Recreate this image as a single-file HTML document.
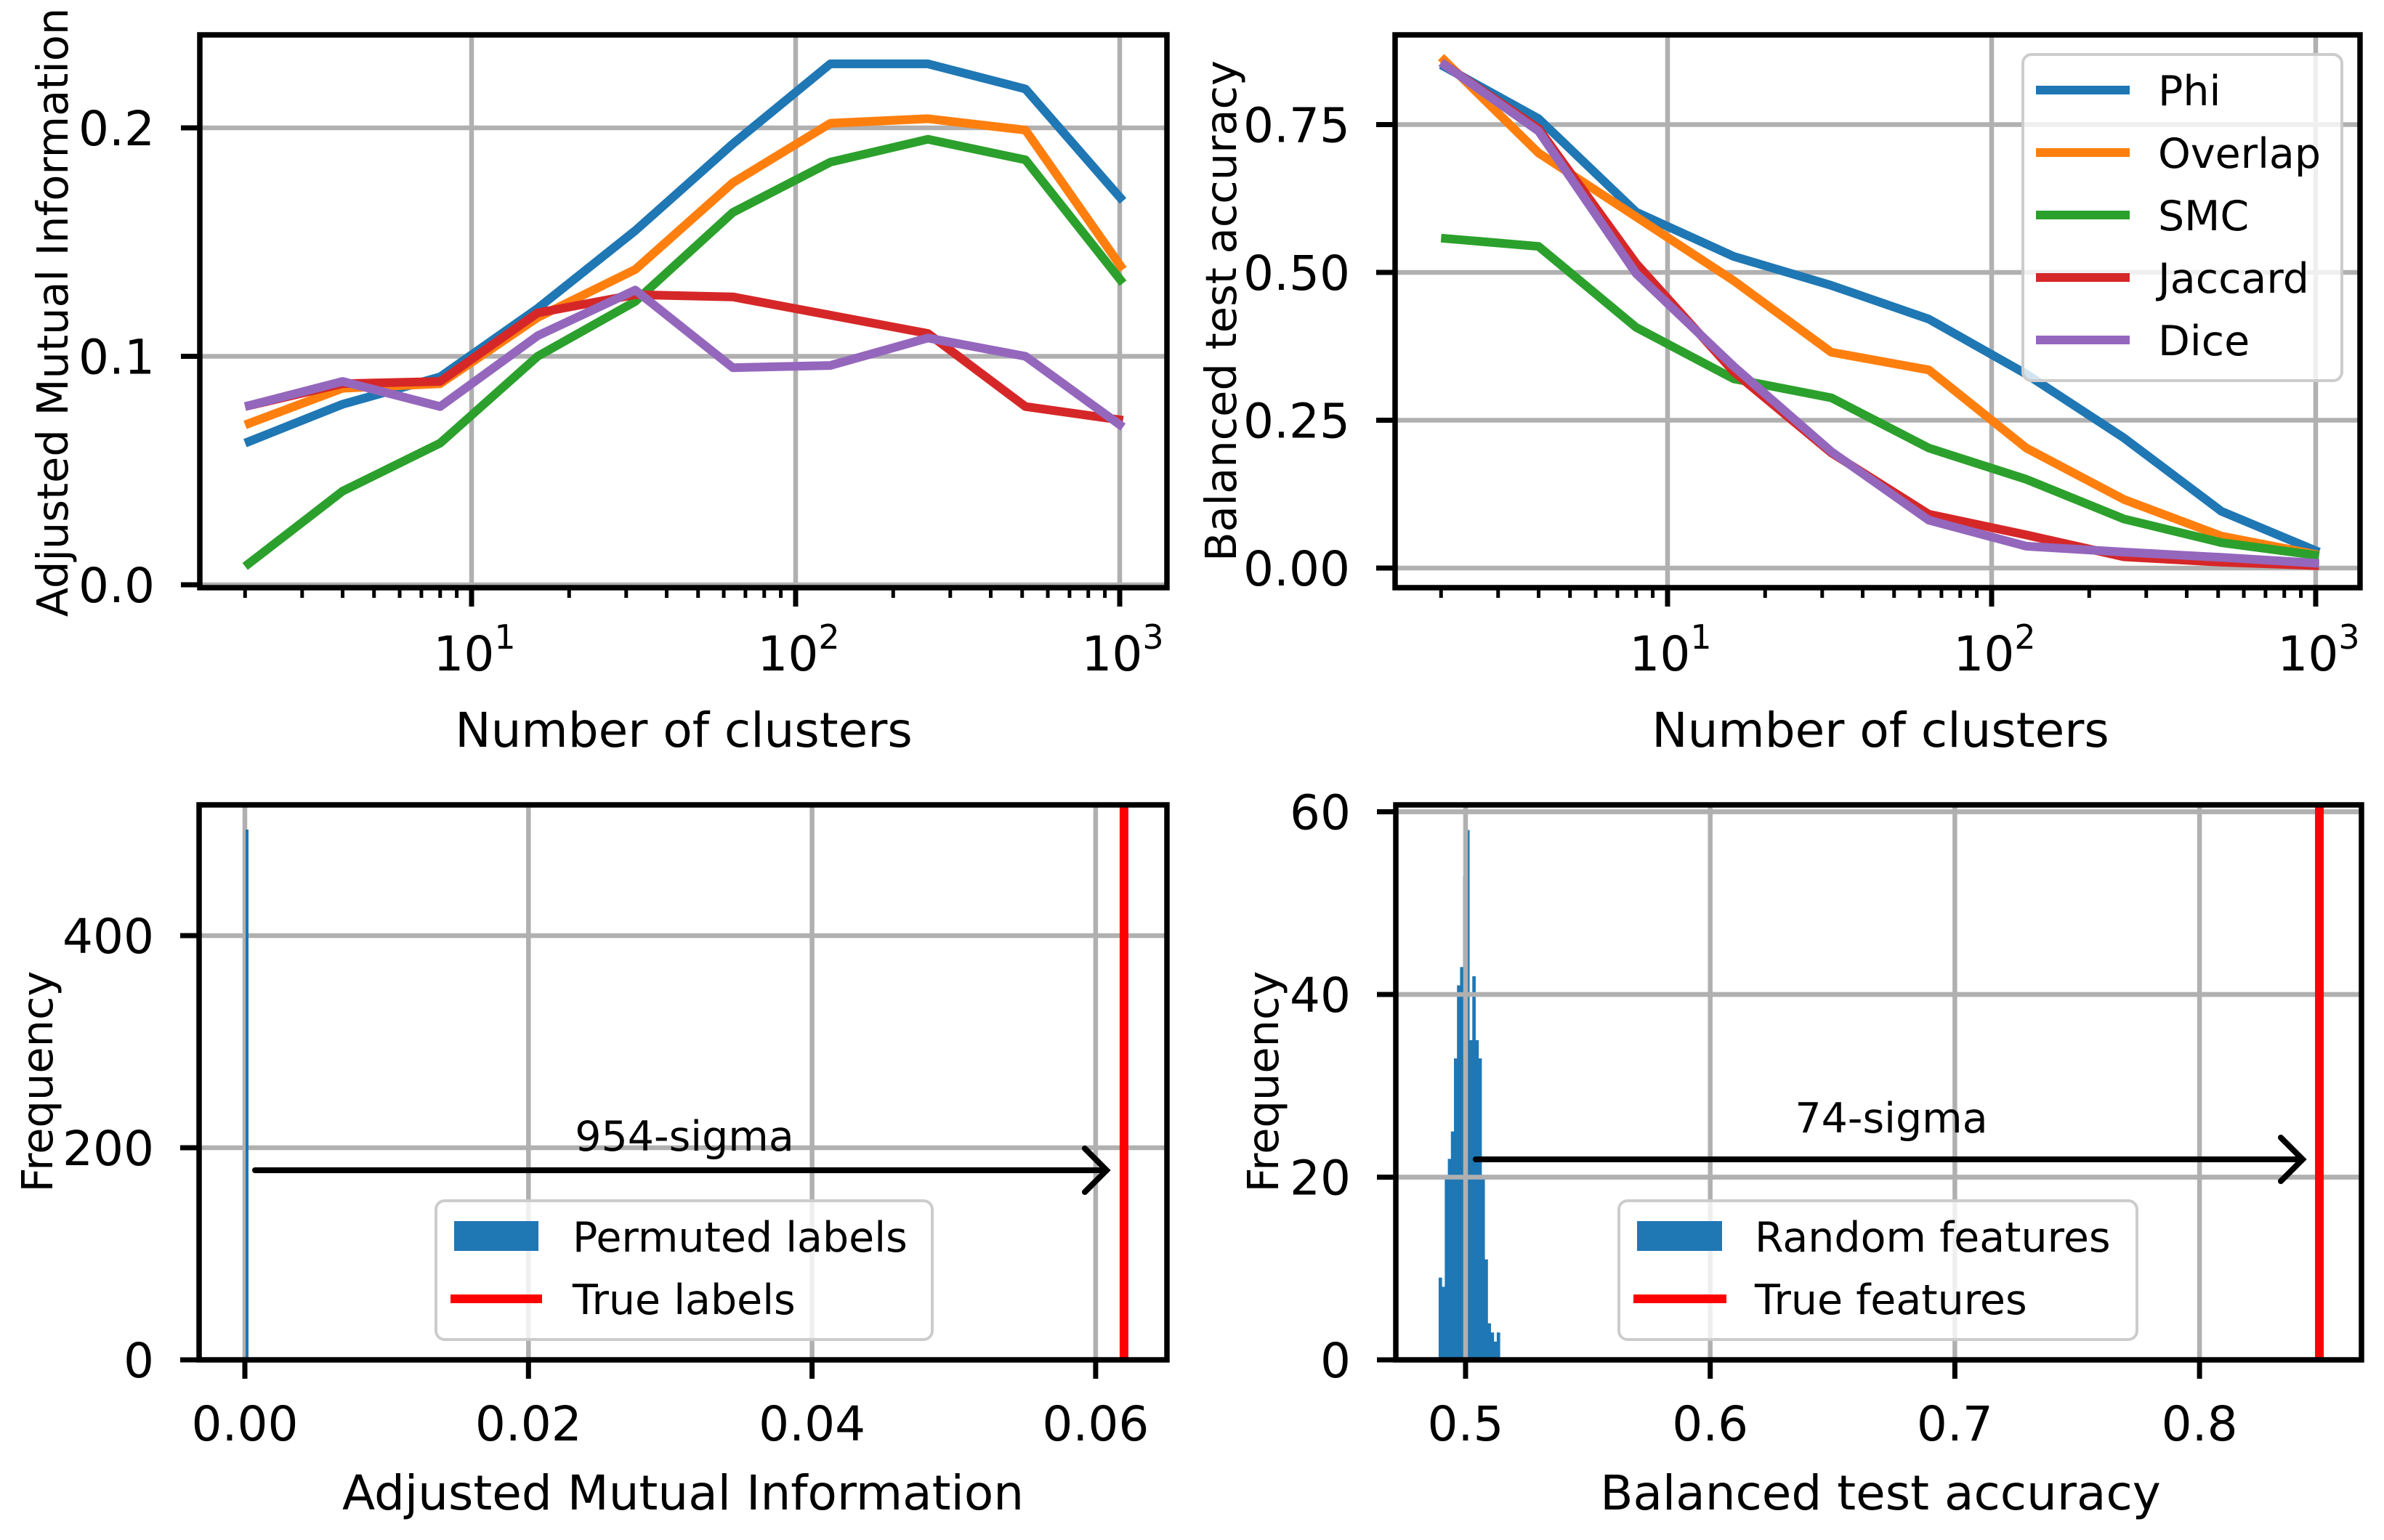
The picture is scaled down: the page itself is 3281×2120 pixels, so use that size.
<!DOCTYPE html>
<html><head><meta charset="utf-8"><style>
html,body{margin:0;padding:0;background:#fff}
svg{display:block}
text{font-family:"DejaVu Sans","Liberation Sans",sans-serif;fill:#000}
</style></head><body>
<svg id="fig" width="3281" height="2120" viewBox="0 0 3281 2120" xmlns="http://www.w3.org/2000/svg"></svg>
<script>
// ---- data ----
const clusters = [2,4,8,16,32,64,128,256,512,1024];
const seriesNames = ["Phi","Overlap","SMC","Jaccard","Dice"];
const seriesColors = ["#1f77b4","#ff7f0e","#2ca02c","#d62728","#9467bd"];
const amiPhi = [0.062,0.079,0.091,0.121,0.155,0.193,0.228,0.228,0.217,0.168];
const amiOverlap = [0.070,0.086,0.088,0.117,0.138,0.176,0.202,0.204,0.199,0.138];
const amiSMC = [0.008,0.041,0.062,0.100,0.124,0.163,0.185,0.195,0.186,0.132];
const amiJaccard = [0.078,0.088,0.089,0.119,0.127,0.126,0.118,0.110,0.078,0.072];
const amiDice = [0.078,0.089,0.078,0.109,0.129,0.095,0.096,0.108,0.100,0.069];
const accPhi = [0.851,0.760,0.602,0.527,0.478,0.421,0.328,0.220,0.096,0.027];
const accOverlap = [0.864,0.702,0.594,0.486,0.365,0.335,0.203,0.116,0.054,0.022];
const accSMC = [0.558,0.544,0.407,0.320,0.288,0.203,0.150,0.083,0.043,0.021];
const accJaccard = [0.855,0.743,0.515,0.332,0.195,0.091,0.056,0.019,0.010,0.004];
const accDice = [0.855,0.739,0.498,0.341,0.197,0.081,0.037,0.027,0.018,0.008];
const amiTicks = [0.0,0.1,0.2];
const amiTickLabels = ["0.0","0.1","0.2"];
const accTicks = [0.0,0.25,0.5,0.75];
const accTickLabels = ["0.00","0.25","0.50","0.75"];
const logTicks = [1,2,3];
const permHistEdges = [0.0000,0.0002];
const permHistCounts = [500];
const permTrueValue = 0.062;
const permXTicks = [0,0.02,0.04,0.06];
const permXTickLabels = ["0.00","0.02","0.04","0.06"];
const permYTicks = [0,200,400];
const permYTickLabels = ["0","200","400"];
const permSigmaLabel = "954-sigma";
const randHistStart = 0.489;
const randHistBinWidth = 0.00125;
const randHistCounts = [9,8,20,22,25,33,41,43,53,58,35,42,35,33,20,11,4,3,2,3];
const randTrueValue = 0.849;
const randXTicks = [0.5,0.6,0.7,0.8];
const randXTickLabels = ["0.5","0.6","0.7","0.8"];
const randYTicks = [0,20,40,60];
const randYTickLabels = ["0","20","40","60"];
const randSigmaLabel = "74-sigma";

const NS="http://www.w3.org/2000/svg";
const svg=document.getElementById('fig');
function mk(tag,attrs,parent,txt){const e=document.createElementNS(NS,tag);for(const k in attrs)e.setAttribute(k,attrs[k]);if(txt!==undefined)e.textContent=txt;(parent||svg).appendChild(e);return e;}
function lin(d0,d1,r0,r1){return v=>r0+(v-d0)*(r1-r0)/(d1-d0);}
const GRID="#b0b0b0";

function axesFrame(g,L,T,R,B,id){
  const cp=mk('clipPath',{id:id},g);
  mk('rect',{x:L,y:T,width:R-L,height:B-T},cp);
}
function spines(g,L,T,R,B){
  const s=mk('rect',{x:L,y:T,width:R-L,height:B-T,fill:'none',stroke:'#000','stroke-width':7.5},g);
  
  
}
function yTicks(g,ticks,labels,ys,L,R){
  ticks.forEach((t,i)=>{const y=ys(t);
    const gl=mk('line',{x1:L,x2:R,y1:y,y2:y,stroke:GRID,'stroke-width':6.5},g);
    
    
    mk('line',{x1:L-26,x2:L,y1:y,y2:y,stroke:'#000','stroke-width':7},g);
    const tx=mk('text',{x:L-62,y:y+24,'font-size':66,'text-anchor':'end'},g,labels[i]);
    
    
  });
}
function xTicksLin(g,ticks,labels,xs,T,B){
  ticks.forEach((t,i)=>{const x=xs(t);
    const gl=mk('line',{x1:x,x2:x,y1:T,y2:B,stroke:GRID,'stroke-width':6.5},g);
    
    
    mk('line',{x1:x,x2:x,y1:B,y2:B+26,stroke:'#000','stroke-width':7},g);
    const tx=mk('text',{x:x,y:1983,'font-size':66,'text-anchor':'middle'},g,labels[i]);
    
    
  });
}
function xTicksLog(g,xs,T,B,lo,hi){
  for(let k=0;k<=3;k++)for(let m=2;m<=9;m++){const v=m*Math.pow(10,k);if(v<lo||v>hi)continue;
    mk('line',{x1:xs(v),x2:xs(v),y1:B,y2:B+14,stroke:'#000','stroke-width':5},g);}
  logTicks.forEach(p=>{const x=xs(Math.pow(10,p));
    const gl=mk('line',{x1:x,x2:x,y1:T,y2:B,stroke:GRID,'stroke-width':6.5},g);
    
    
    mk('line',{x1:x,x2:x,y1:B,y2:B+26,stroke:'#000','stroke-width':7},g);
    const tx=mk('text',{x:x+4,y:923,'font-size':66,'text-anchor':'middle'},g);
    
    
    mk('tspan',{},tx,'10');
    mk('tspan',{'font-size':46,dy:-30},tx,String(p));
  });
}
function lineSeries(g,vals,xs,ys,color,clip,name){
  const d=vals.map((v,i)=>(i?'L':'M')+xs(clusters[i]).toFixed(1)+' '+ys(v).toFixed(1)).join(' ');
  const p=mk('path',{d:d,fill:'none',stroke:color,'stroke-width':12,'stroke-linejoin':'round','clip-path':'url(#'+clip+')'},g);
  
  
}
function label(g,txt,x,y,rot,name){
  const t=mk('text',{x:x,y:y,'font-size':rot?59:66,'text-anchor':'middle',transform:rot?'rotate(-90 '+x+' '+y+')':''},g,txt);
  
  
}
function arrow(g,x1,x2,y,name){
  const a=mk('g',{},g);
  
  
  mk('line',{x1:x1,x2:x2-4,y1:y,y2:y,stroke:'#000','stroke-width':8,'stroke-linecap':'round'},a);
  mk('path',{d:`M${x2-30} ${y-30} L${x2} ${y} L${x2-30} ${y+30}`,fill:'none',stroke:'#000','stroke-width':8,'stroke-linecap':'round'},a);
}

// ===== Top-left =====
(function(){
  const L=275,T=48,R=1606,B=809;
  const g=mk('g',{});  
  axesFrame(g,L,T,R,B,'c1');
  const lx=lin(1,2,649,1095); const xs=v=>lx(Math.log10(v));
  const ys=lin(0,0.1,805,490.5);
  yTicks(g,amiTicks,amiTickLabels,ys,L,R);
  xTicksLog(g,xs,T,B,1.45,1400);
  const all=[amiPhi,amiOverlap,amiSMC,amiJaccard,amiDice];
  all.forEach((s,i)=>lineSeries(g,s,xs,ys,seriesColors[i],'c1','ami-line-'+seriesNames[i].toLowerCase()));
  spines(g,L,T,R,B);
  label(g,'Number of clusters',941,1028,false,'x-axis-title');
  label(g,'Adjusted Mutual Information',93,430,true,'y-axis-title');
})();

// ===== Top-right =====
(function(){
  const L=1920,T=48,R=3248,B=809;
  const g=mk('g',{});  
  axesFrame(g,L,T,R,B,'c2');
  const lx=lin(1,2,2295,2741); const xs=v=>lx(Math.log10(v));
  const ys=lin(0,0.25,782,578.5);
  yTicks(g,accTicks,accTickLabels,ys,L,R);
  xTicksLog(g,xs,T,B,1.45,1400);
  const all=[accPhi,accOverlap,accSMC,accJaccard,accDice];
  all.forEach((s,i)=>lineSeries(g,s,xs,ys,seriesColors[i],'c2','acc-line-'+seriesNames[i].toLowerCase()));
  spines(g,L,T,R,B);
  label(g,'Number of clusters',2588,1028,false,'x-axis-title');
  label(g,'Balanced test accuracy',1701,428,true,'y-axis-title');
  const lg=mk('g',{});  
  mk('rect',{x:2784,y:75,width:439,height:449,rx:12,fill:'#fff','fill-opacity':0.8,stroke:'#cccccc','stroke-width':4},lg);
  seriesNames.forEach((n,i)=>{const y=124+i*86;
    const e=mk('g',{},lg);
    
    
    mk('line',{x1:2802,x2:2931,y1:y,y2:y,stroke:seriesColors[i],'stroke-width':12},e);
    mk('text',{x:2970,y:y+21,'font-size':57},e,n);
  });
})();

// ===== Bottom-left =====
(function(){
  const L=274,T=1108,R=1606,B=1872;
  const g=mk('g',{});  
  axesFrame(g,L,T,R,B,'c3');
  const xs=lin(0,0.02,337,727.3), ys=lin(0,200,1872,1580);
  yTicks(g,permYTicks,permYTickLabels,ys,L,R);
  xTicksLin(g,permXTicks,permXTickLabels,xs,T,B);
  permHistCounts.forEach((c,i)=>{
    const x0=xs(permHistEdges[i]),x1=Math.max(xs(permHistEdges[i+1]),x0+4);
    const r=mk('rect',{x:x0+1,y:ys(c),width:x1-x0,height:ys(0)-ys(c),fill:'#1f77b4'},g);
    
    
  });
  const rl=mk('line',{x1:xs(permTrueValue),x2:xs(permTrueValue),y1:T,y2:B,stroke:'#ff0000','stroke-width':12},g);
  
  
  arrow(g,351,1523,1611,'sigma-arrow');
  const st=mk('text',{x:942,y:1584,'font-size':57,'text-anchor':'middle'},g,permSigmaLabel);
  
  
  spines(g,L,T,R,B);
  label(g,'Adjusted Mutual Information',940,2078,false,'x-axis-title');
  label(g,'Frequency',72,1489,true,'y-axis-title');
  const lg=mk('g',{});  
  mk('rect',{x:600,y:1653,width:683,height:191,rx:12,fill:'#fff','fill-opacity':0.8,stroke:'#cccccc','stroke-width':4},lg);
  const e1=mk('g',{},lg);  
  mk('rect',{x:625,y:1681,width:116,height:41,fill:'#1f77b4'},e1);
  mk('text',{x:788,y:1723,'font-size':57},e1,'Permuted labels');
  const e2=mk('g',{},lg);  
  mk('line',{x1:620,x2:746,y1:1788,y2:1788,stroke:'#ff0000','stroke-width':12},e2);
  mk('text',{x:788,y:1809,'font-size':57},e2,'True labels');
})();

// ===== Bottom-right =====
(function(){
  const L=1921,T=1108,R=3250,B=1872;
  const g=mk('g',{});  
  axesFrame(g,L,T,R,B,'c4');
  const xs=lin(0.5,0.6,2017,2353.7), ys=lin(0,20,1872,1620.5);
  yTicks(g,randYTicks,randYTickLabels,ys,L,R);
  randXTicks.forEach((t,i)=>{const x=xs(t);
    mk('line',{x1:x,x2:x,y1:B,y2:B+26,stroke:'#000','stroke-width':7},g);
    const tx=mk('text',{x:x,y:1983,'font-size':66,'text-anchor':'middle'},g,randXTickLabels[i]);
    
    
  });
  randHistCounts.forEach((c,i)=>{
    const x0=xs(randHistStart+i*randHistBinWidth),x1=xs(randHistStart+(i+1)*randHistBinWidth);
    const r=mk('rect',{x:x0,y:ys(c),width:x1-x0+0.5,height:ys(0)-ys(c),fill:'#1f77b4'},g);
    
    
  });
  randXTicks.forEach(t=>{const x=xs(t);
    const gl=mk('line',{x1:x,x2:x,y1:T,y2:B,stroke:GRID,'stroke-width':6.5},g);
    
    
  });
  randYTicks.forEach(t=>{const y=ys(t);
    mk('line',{x1:L,x2:R,y1:y,y2:y,stroke:GRID,'stroke-width':6.5},g);
  });
  const rl=mk('line',{x1:xs(randTrueValue),x2:xs(randTrueValue),y1:T,y2:B,stroke:'#ff0000','stroke-width':12},g);
  
  
  arrow(g,2031,3169,1596,'sigma-arrow');
  const st=mk('text',{x:2603,y:1559,'font-size':57,'text-anchor':'middle'},g,randSigmaLabel);
  
  
  spines(g,L,T,R,B);
  label(g,'Balanced test accuracy',2588,2078,false,'x-axis-title');
  label(g,'Frequency',1759,1489,true,'y-axis-title');
  const lg=mk('g',{});  
  mk('rect',{x:2228,y:1653,width:713,height:191,rx:12,fill:'#fff','fill-opacity':0.8,stroke:'#cccccc','stroke-width':4},lg);
  const e1=mk('g',{},lg);  
  mk('rect',{x:2253,y:1681,width:117,height:41,fill:'#1f77b4'},e1);
  mk('text',{x:2415,y:1723,'font-size':57},e1,'Random features');
  const e2=mk('g',{},lg);  
  mk('line',{x1:2248,x2:2376,y1:1788,y2:1788,stroke:'#ff0000','stroke-width':12},e2);
  mk('text',{x:2415,y:1809,'font-size':57},e2,'True features');
})();
</script>
</body></html>
